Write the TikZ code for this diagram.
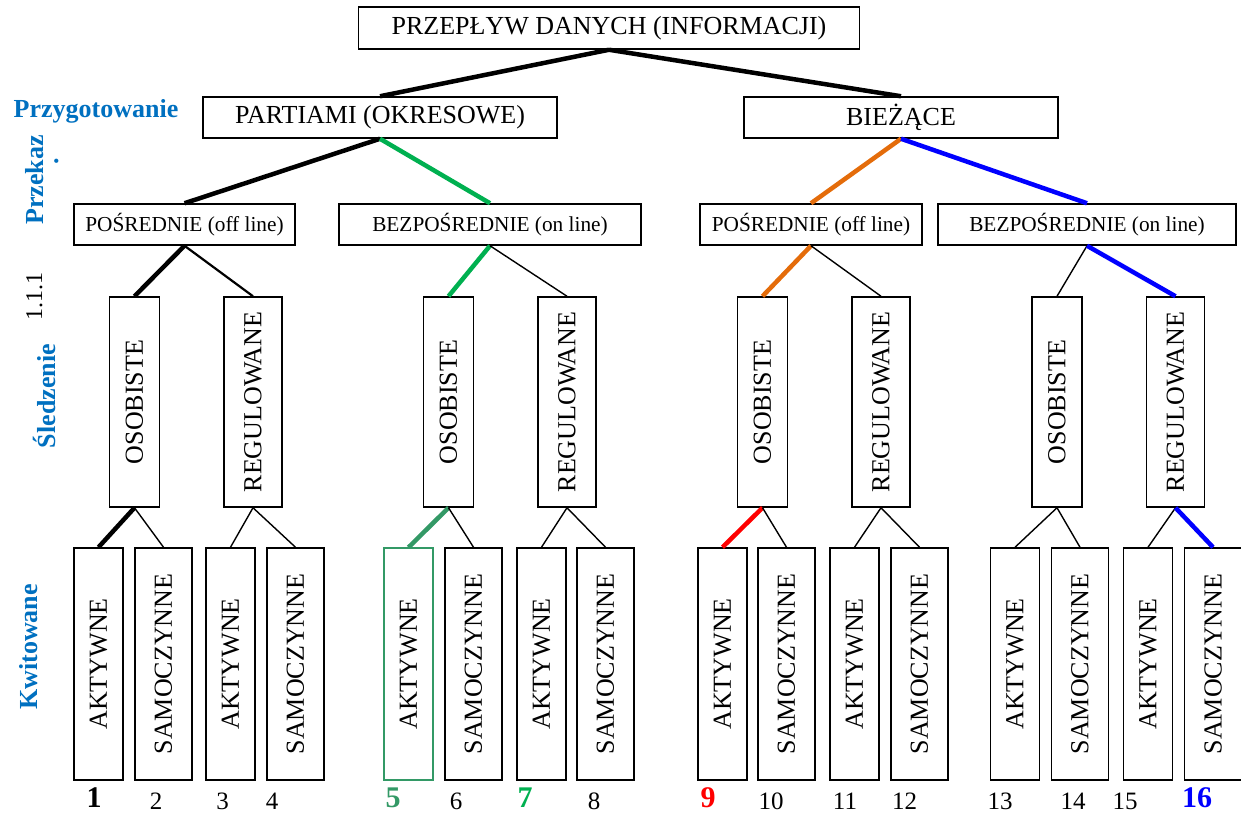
\documentclass[tikz,border=0pt]{standalone}
\usepackage{fontspec}
\setmainfont{Liberation Serif}
\definecolor{lblue}{HTML}{0070C0}
\definecolor{cgreen}{HTML}{00B050}
\definecolor{cseagreen}{HTML}{339966}
\definecolor{corange}{HTML}{E46C0A}
\definecolor{cred}{HTML}{FF0000}
\definecolor{cblue}{HTML}{0000FF}
\begin{document}
\begin{tikzpicture}[x=1pt,y=-1pt,
  box/.style={draw, line width=1.5pt, inner sep=0pt, align=center},
  big/.style={font=\fontsize{26}{30}\selectfont},
  mid/.style={font=\fontsize{21.3}{25}\selectfont},
  headbox/.style={box, big, minimum height=41pt},
  modebox/.style={box, mid, minimum height=41pt},
  tallbox/.style={box, big, minimum height=210pt},
  leafbox/.style={box, big, minimum height=232pt},
  heavy/.style={line width=4.5pt},
  thin/.style={line width=1.4pt},
  side/.style={text=lblue, font=\fontsize{26}{30}\selectfont\bfseries},
  num/.style={anchor=base, inner sep=0.5pt, font=\fontsize{25}{30}\selectfont},
  bnum/.style={anchor=base, inner sep=0.5pt, font=\fontsize{30}{34}\selectfont\bfseries},
]
\useasboundingbox (0,0) rectangle (1241,814);

% top level
\node[headbox, minimum width=501pt, minimum height=42pt] (flow) at (609,28) {PRZEPŁYW DANYCH (INFORMACJI)};

% processing mode
\node[headbox, minimum width=354pt] (batch) at (380,117.5) {PARTIAMI (OKRESOWE)};
\node[headbox, minimum width=314pt] (cur) at (901,117.5) {BIEŻĄCE};

% transfer
\node[modebox, minimum width=221pt] (ind1) at (184.5,224.5) {POŚREDNIE (off line)};
\node[modebox, minimum width=302pt] (dir1) at (490,224.5) {BEZPOŚREDNIE (on line)};
\node[modebox, minimum width=222pt] (ind2) at (811,224.5) {POŚREDNIE (off line)};
\node[modebox, minimum width=298pt] (dir2) at (1087,224.5) {BEZPOŚREDNIE (on line)};

% tracking
\foreach \n/\x/\t/\w in {1/134.5/OSOBISTE/50, 2/253/REGULOWANE/58,
                         3/448.5/OSOBISTE/50, 4/567/REGULOWANE/58,
                         5/762.5/OSOBISTE/50, 6/881/REGULOWANE/58,
                         7/1057/OSOBISTE/50, 8/1175.5/REGULOWANE/58}
  \node[tallbox, minimum width=\w pt] (s\n) at (\x,402) {\rotatebox{90}{\t}};

% acknowledgement
\foreach \n/\x/\t/\w in {1/98.5/AKTYWNE/49, 2/163.5/SAMOCZYNNE/57,
                         3/230.5/AKTYWNE/49, 4/295.5/SAMOCZYNNE/57,
                         6/473.5/SAMOCZYNNE/57,
                         7/541.5/AKTYWNE/49, 8/605.5/SAMOCZYNNE/57,
                         9/722.5/AKTYWNE/49, 10/786.5/SAMOCZYNNE/57,
                         11/854.5/AKTYWNE/49, 12/919.5/SAMOCZYNNE/57,
                         13/1015/AKTYWNE/49, 14/1080/SAMOCZYNNE/57,
                         15/1148/AKTYWNE/49, 16/1213/SAMOCZYNNE/57}
  \node[leafbox, minimum width=\w pt] (q\n) at (\x,664) {\rotatebox{90}{\t}};
\node[leafbox, minimum width=49pt, draw=cseagreen, line width=1.2pt] (q5) at (408.5,664) {\rotatebox{90}{AKTYWNE}};

% connectors
\draw[heavy] (flow.south) -- (batch.north);
\draw[heavy] (flow.south) -- (cur.north);

\draw[heavy] (batch.south) -- (ind1.north);
\draw[heavy, cgreen] (batch.south) -- (dir1.north);
\draw[heavy, corange] (cur.south) -- (ind2.north);
\draw[heavy, cblue] (cur.south) -- (dir2.north);

\draw[heavy] (ind1.south) -- (s1.north);
\draw[line width=2.2pt] (ind1.south) -- (s2.north);
\draw[heavy, cgreen] (dir1.south) -- (s3.north);
\draw[thin] (dir1.south) -- (s4.north);
\draw[heavy, corange] (ind2.south) -- (s5.north);
\draw[thin] (ind2.south) -- (s6.north);
\draw[thin] (dir2.south) -- (s7.north);
\draw[heavy, cblue] (dir2.south) -- (s8.north);

\draw[heavy] (s1.south) -- (q1.north);
\draw[thin] (s1.south) -- (q2.north);
\draw[thin] (s2.south) -- (q3.north);
\draw[thin] (s2.south) -- (q4.north);
\draw[heavy, cseagreen] (s3.south) -- (q5.north);
\draw[thin] (s3.south) -- (q6.north);
\draw[thin] (s4.south) -- (q7.north);
\draw[thin] (s4.south) -- (q8.north);
\draw[heavy, cred] (s5.south) -- (q9.north);
\draw[thin] (s5.south) -- (q10.north);
\draw[thin] (s6.south) -- (q11.north);
\draw[thin] (s6.south) -- (q12.north);
\draw[thin] (s7.south) -- (q13.north);
\draw[thin] (s7.south) -- (q14.north);
\draw[thin] (s8.south) -- (q15.north);
\draw[heavy, cblue] (s8.south) -- (q16.north);

% side labels
\node[side, anchor=base] (lprep) at (96,117) {Przygotowanie};
\node[side, anchor=base, rotate=90] (ltrans) at (43,180) {Przekaz};
\node[side, inner sep=0pt] (ldot) at (57,161) {\rotatebox{90}{.}};
\node[anchor=base, rotate=90, font=\fontsize{24}{28}\selectfont] (lnum) at (42,296) {1.1.1};
\node[side, anchor=base, rotate=90] (ltrack) at (55,396) {Śledzenie};
\node[side, anchor=base, rotate=90] (lack) at (37,647) {Kwitowane};

% numbering
\node[bnum] (n1) at (94,807) {1};
\node[num] (n2) at (156,809) {2};
\node[num] (n3) at (222.5,809) {3};
\node[num] (n4) at (272,809) {4};
\node[bnum, text=cseagreen] (n5) at (393,807) {5};
\node[num] (n6) at (456,809) {6};
\node[bnum, text=cgreen] (n7) at (525,807) {7};
\node[num] (n8) at (594,809) {8};
\node[bnum, text=cred] (n9) at (708,807) {9};
\node[num] (n10) at (771,809) {10};
\node[num] (n11) at (845,809) {11};
\node[num] (n12) at (904.5,809) {12};
\node[num] (n13) at (1000,809) {13};
\node[num] (n14) at (1073,809) {14};
\node[num] (n15) at (1125,809) {15};
\node[bnum, text=cblue] (n16) at (1197,807) {16};
\end{tikzpicture}
\end{document}
